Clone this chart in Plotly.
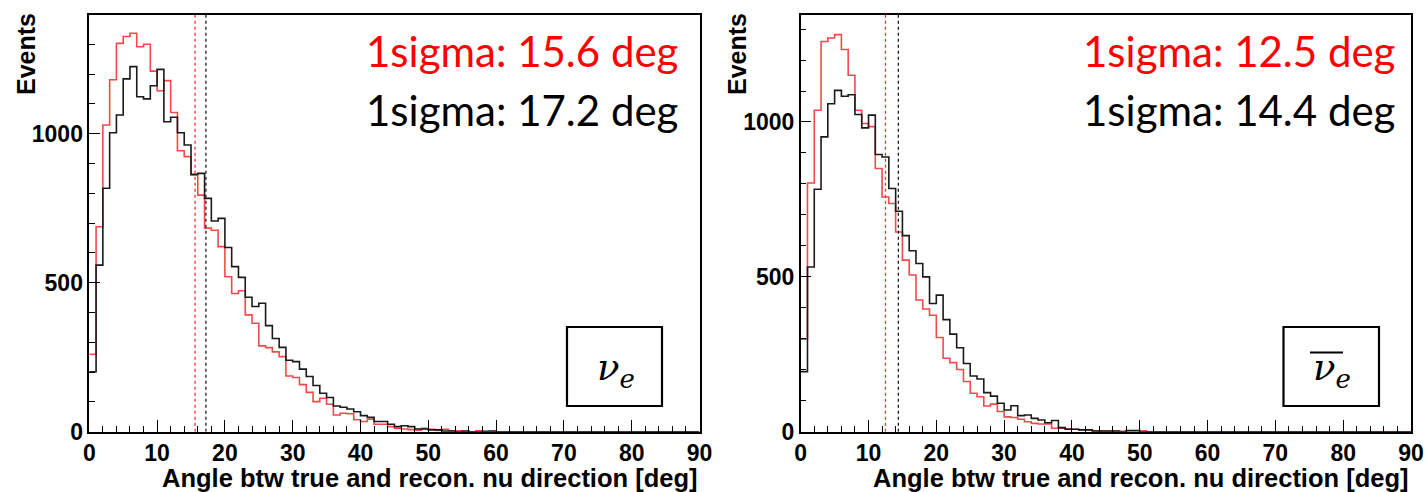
import numpy as np
import plotly.graph_objects as go

# ---------------- data (1-degree bins, 0..90 deg) ----------------
n_bins = 90
bin_edges = list(range(0, n_bins + 1))

left_red = [260, 688, 1029, 1181, 1303, 1326, 1337, 1292, 1300, 1210,
            1144, 1178, 1071, 943, 923, 861, 794, 683, 676, 621,
            520, 464, 473, 392, 364, 288, 282, 268, 252, 187,
            182, 158, 132, 101, 112, 92, 56, 62, 60, 40,
            34, 42, 25, 25, 17, 11, 9, 7, 5, 11,
            8, 4, 8, 3, 3, 0, 0, 3, 0, 0]
left_black = [201, 559, 817, 1003, 1063, 1184, 1225, 1124, 1117, 1161,
              1216, 1040, 1055, 1003, 962, 864, 867, 783, 707, 716,
              618, 554, 518, 451, 420, 431, 356, 313, 283, 240,
              235, 210, 185, 155, 129, 115, 86, 82, 76, 67,
              54, 48, 34, 34, 25, 17, 20, 17, 9, 9,
              6, 6, 2, 2, 0, 2, 0, 0, 1, 2]
right_red = [299, 803, 1038, 1260, 1271, 1282, 1234, 1151, 1038, 995,
             985, 850, 758, 737, 645, 554, 506, 425, 396, 376,
             304, 237, 223, 201, 162, 124, 113, 83, 89, 65,
             48, 46, 40, 32, 27, 25, 25, 11, 11, 9,
             8, 6, 6, 3, 2, 2, 1, 1, 1, 2,
             3, 0]
right_black = [194, 532, 783, 952, 1059, 1102, 1083, 1088, 1024, 981,
               1022, 895, 887, 785, 712, 633, 584, 543, 500, 414,
               441, 362, 315, 271, 220, 180, 170, 126, 115, 92,
               70, 84, 52, 54, 43, 38, 29, 36, 13, 8,
               8, 6, 6, 2, 2, 2, 2, 0, 4, 4,
               0]

left_sigma = {"red": 15.6, "black": 17.2}
right_sigma = {"red": 12.5, "black": 14.4}
x_ticks = list(range(0, 91, 10))
y_ticks = [0, 500, 1000]
y_max = {"left": 1400, "right": 1347}
x_title = "Angle btw true and recon. nu direction [deg]"
y_title = "Events"

RED = "#f24a4a"
BLACK = "#1a1a1a"


def pad(vals):
    v = list(vals) + [0] * (n_bins - len(vals))
    return v + [v[-1]]


fig = go.Figure()

for vals, color, xa, ya in [(left_red, RED, "x", "y"), (left_black, BLACK, "x", "y"),
                            (right_red, RED, "x2", "y2"), (right_black, BLACK, "x2", "y2")]:
    fig.add_trace(go.Scatter(x=bin_edges, y=pad(vals), mode="lines", line_shape="hv",
                             line=dict(color=color, width=1.6), xaxis=xa, yaxis=ya,
                             showlegend=False, hoverinfo="skip"))

# sigma lines
for sig, xa, ya, ym in [(left_sigma, "x", "y", y_max["left"]), (right_sigma, "x2", "y2", y_max["right"])]:
    for col, val in sig.items():
        fig.add_trace(go.Scatter(x=[val, val], y=[0, ym], mode="lines",
                                 line=dict(color="#ff2a2a" if col == "red" else BLACK, width=1.3,
                                           dash="3px,3px"),
                                 xaxis=xa, yaxis=ya, showlegend=False, hoverinfo="skip"))

W, H = 1425, 492
tickfont = dict(family="Liberation Sans", size=23, color="black", weight="bold")


def xax(domain):
    return dict(domain=domain, range=[0, 90], tickvals=x_ticks, ticks="inside", ticklen=12,
                tickwidth=1.2, tickcolor="black", ticklabelstandoff=0,
                minor=dict(dtick=2, tick0=0, ticks="inside", ticklen=6, tickwidth=1.2, tickcolor="black"),
                showline=True, linecolor="black", linewidth=1.5, mirror=True,
                showgrid=False, zeroline=False, tickfont=tickfont, fixedrange=True)


def yax(ym, anchor):
    return dict(domain=[(H - 431.7) / H, (H - 14.5) / H], range=[0, ym], tickvals=y_ticks,
                ticks="inside", ticklen=11, tickwidth=1.2, tickcolor="black",
                minor=dict(dtick=100, tick0=0, ticks="inside", ticklen=6, tickwidth=1.2, tickcolor="black"),
                showline=True, linecolor="black", linewidth=1.5, mirror=True,
                showgrid=False, zeroline=False, tickfont=tickfont, anchor=anchor, fixedrange=True)


L0, L1 = 89.3 / W, 699.5 / W
R0, R1 = 800.7 / W, 1411 / W

fig.update_layout(
    width=W, height=H, autosize=False,
    margin=dict(l=0, r=0, t=0, b=0, autoexpand=False),
    paper_bgcolor="white", plot_bgcolor="white",
    xaxis=xax([L0, L1]) | dict(anchor="y"),
    yaxis=yax(y_max["left"], "x"),
    xaxis2=xax([R0, R1]) | dict(anchor="y2"),
    yaxis2=yax(y_max["right"], "x2"),
)

ann = []
titlefont = dict(family="Liberation Sans", size=25.5, color="black", weight="bold")
for xr, yr, x0px in [("x", "y", 26), ("x2", "y2", 737)]:
    ann.append(dict(text=x_title, xref=xr, x=90, xanchor="right", yref="paper",
                    y=(H - 477.5) / H, yanchor="middle", showarrow=False, font=titlefont))
    ann.append(dict(text=y_title, textangle=-90, xref="paper", x=x0px / W, xanchor="center",
                    yref="paper", y=(H - 11) / H, yanchor="top", showarrow=False,
                    font=dict(family="Liberation Sans", size=25, color="black", weight="bold")))

bigfont = dict(family="Lato", size=42)
for x_left, sig in [(364, left_sigma), (1081, right_sigma)]:
    ann.append(dict(text=f"1sigma: {sig['red']} deg", xref="paper", x=x_left / W, xanchor="left",
                    yref="paper", y=(H - 51) / H, yanchor="middle", showarrow=False,
                    font=bigfont | dict(color="#ff0000")))
    ann.append(dict(text=f"1sigma: {sig['black']} deg", xref="paper", x=x_left / W, xanchor="left",
                    yref="paper", y=(H - 110) / H, yanchor="middle", showarrow=False,
                    font=bigfont | dict(color="black")))

shapes = []
for bx0, bx1, label in [(567, 662, "nu"), (1283.5, 1379, "nubar")]:
    shapes.append(dict(type="rect", xref="paper", yref="paper", x0=bx0 / W, x1=bx1 / W,
                       y0=(H - 406) / H, y1=(H - 327) / H, line=dict(color="black", width=2.2)))
    cx = (bx0 + bx1) / 2
    ann.append(dict(text="<i>ν</i><sub><i>e</i></sub>", xref="paper", x=(cx + 1) / W, xanchor="center",
                    yref="paper", y=(H - 370) / H, yanchor="middle", showarrow=False,
                    font=dict(family="DejaVu Serif", size=37, color="black")))
    if label == "nubar":
        shapes.append(dict(type="line", xref="paper", yref="paper", x0=1310 / W, x1=1343 / W,
                           y0=(H - 352.5) / H, y1=(H - 352.5) / H, line=dict(color="black", width=1.8)))

fig.update_layout(annotations=ann, shapes=shapes)
fig.write_html("out.html")
